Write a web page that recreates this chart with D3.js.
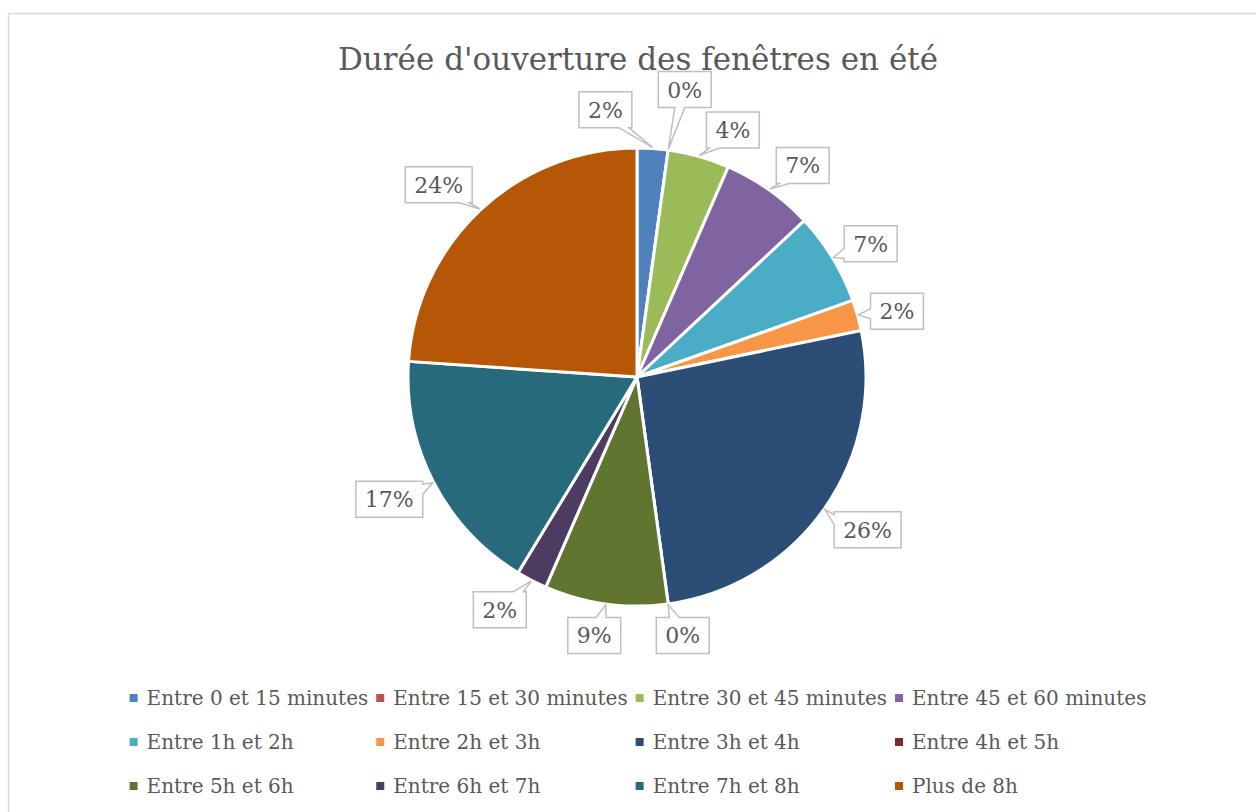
<!DOCTYPE html>
<html>
<head>
<meta charset="utf-8">
<script src="https://cdn.jsdelivr.net/npm/d3@7"></script>
<style>
  body { margin: 0; background: #fff; }
  text { font-family: "DejaVu Serif", serif; fill: #595959; }
</style>
</head>
<body>
<div id="chart"></div>
<script>
// survey answers (number of respondents) per duration
const categories = [
  'Entre 0 et 15 minutes', 'Entre 15 et 30 minutes', 'Entre 30 et 45 minutes', 'Entre 45 et 60 minutes',
  'Entre 1h et 2h', 'Entre 2h et 3h', 'Entre 3h et 4h', 'Entre 4h et 5h',
  'Entre 5h et 6h', 'Entre 6h et 7h', 'Entre 7h et 8h', 'Plus de 8h'
];
const counts = [1, 0, 2, 3, 3, 1, 12, 0, 4, 1, 8, 11];
const colors = ['#4F81BD', '#C0504D', '#9BBB59', '#8064A2', '#4BACC6', '#F79646',
                '#2C4D75', '#772C2A', '#5F7530', '#4D3B62', '#276A7C', '#B65708'];
const title = "Durée d'ouverture des fenêtres en été";

// small hand tweaks so labels sit like the "best fit" placement
const labelNudge = [[-50, 2], [11, -20], [23, 13], [10, 9], [3, 7], [0, 7],
                    [10, -3], [9, -9], [-6, -9], [-13, -7], [-8, -2], [-14, 5]];

const width = 1256, height = 812;
const cx = 637, cy = 377, r = 229;

const svg = d3.select('#chart').append('svg')
  .attr('width', width).attr('height', height);

// chart area border
svg.append('rect')
  .attr('x', 8.5).attr('y', 13.5).attr('width', 1400).attr('height', 1000)
  .attr('fill', '#fff').attr('stroke', '#d9d9d9').attr('stroke-width', 1.5);

svg.append('text')
  .attr('x', 638).attr('y', 70)
  .attr('text-anchor', 'middle')
  .style('font-size', '31px')
  .text(title);

const data = categories.map((c, i) => ({ name: c, count: counts[i], color: colors[i] }));
const total = d3.sum(counts);
const pct = d3.format('.0%');

const pie = d3.pie().sort(null).value(d => d.count);
const arcs = pie(data);
const arc = d3.arc().innerRadius(0).outerRadius(r);

const g = svg.append('g').attr('transform', `translate(${cx},${cy})`);

g.selectAll('path.slice')
  .data(arcs)
  .join('path')
  .attr('class', 'slice')
  .attr('d', arc)
  .attr('fill', d => d.data.color)
  .attr('stroke', '#fff')
  .attr('stroke-width', 3)
  .attr('stroke-linejoin', 'round');

// callout labels
const polar = (a, rad) => [rad * Math.sin(a), -rad * Math.cos(a)];

function calloutPath(x0, y0, w, h, tx, ty) {
  const mx = x0 + w / 2, my = y0 + h / 2;
  const dx = tx - mx, dy = ty - my;
  const bw = 10;
  const pts = [];
  const inside = tx > x0 && tx < x0 + w && ty > y0 && ty < y0 + h;
  let side = null;
  if (!inside) {
    if (Math.abs(dx) / (w / 2) > Math.abs(dy) / (h / 2)) side = dx > 0 ? 'right' : 'left';
    else side = dy > 0 ? 'bottom' : 'top';
  }
  const clampX = v => Math.max(x0 + 3, Math.min(x0 + w - 3 - bw, v - bw / 2));
  const clampY = v => Math.max(y0 + 3, Math.min(y0 + h - 3 - bw, v - bw / 2));
  pts.push([x0, y0]);
  if (side === 'top') {
    const b = clampX(mx + dx * (h / 2) / Math.abs(dy));
    pts.push([b, y0], [tx, ty], [b + bw, y0]);
  }
  pts.push([x0 + w, y0]);
  if (side === 'right') {
    const b = clampY(my + dy * (w / 2) / Math.abs(dx));
    pts.push([x0 + w, b], [tx, ty], [x0 + w, b + bw]);
  }
  pts.push([x0 + w, y0 + h]);
  if (side === 'bottom') {
    const b = clampX(mx + dx * (h / 2) / Math.abs(dy));
    pts.push([b + bw, y0 + h], [tx, ty], [b, y0 + h]);
  }
  pts.push([x0, y0 + h]);
  if (side === 'left') {
    const b = clampY(my + dy * (w / 2) / Math.abs(dx));
    pts.push([x0, b + bw], [tx, ty], [x0, b]);
  }
  return 'M' + pts.map(p => p.join(',')).join('L') + 'Z';
}

const labels = g.selectAll('g.label')
  .data(arcs)
  .join('g')
  .attr('class', 'label');

labels.each(function (d, i) {
  const sel = d3.select(this);
  const mid = (d.startAngle + d.endAngle) / 2;
  const [lx0, ly0] = polar(mid, 270);
  const lx = lx0 + labelNudge[i][0], ly = ly0 + labelNudge[i][1];
  const [tx, ty] = polar(mid, r + 1);
  const txt = sel.append('text')
    .attr('x', lx).attr('y', ly + 8)
    .attr('text-anchor', 'middle')
    .style('font-size', '22px')
    .text(pct(d.data.count / total));
  const tw = txt.node().getComputedTextLength();
  const w = tw + 18, h = 36;
  sel.insert('path', 'text')
    .attr('d', calloutPath(lx - w / 2, ly - h / 2, w, h, tx, ty))
    .attr('fill', '#fff')
    .attr('stroke', '#bfbfbf')
    .attr('stroke-width', 1.5);
});

// legend: 4 columns x 3 rows, column widths from text widths
const nCols = 4, rowY = [698, 742, 786];
const legend = svg.append('g');
const items = legend.selectAll('g.item')
  .data(data)
  .join('g')
  .attr('class', 'item');

items.append('text')
  .attr('x', 17).attr('y', 7)
  .style('font-size', '20px')
  .text(d => d.name);

const colW = d3.range(nCols).map(c =>
  d3.max(items.filter((d, i) => i % nCols === c).nodes(),
    n => n.querySelector('text').getComputedTextLength()) + 17 + 8);
const legendW = d3.sum(colW);
const colX = colW.map((w, c) => 642 - legendW / 2 + d3.sum(colW.slice(0, c)));

items.attr('transform', (d, i) => `translate(${colX[i % nCols]},${rowY[Math.floor(i / nCols)]})`);
items.insert('rect', 'text')
  .attr('x', 0).attr('y', -4).attr('width', 8).attr('height', 8)
  .attr('fill', d => d.color);
</script>
</body>
</html>
